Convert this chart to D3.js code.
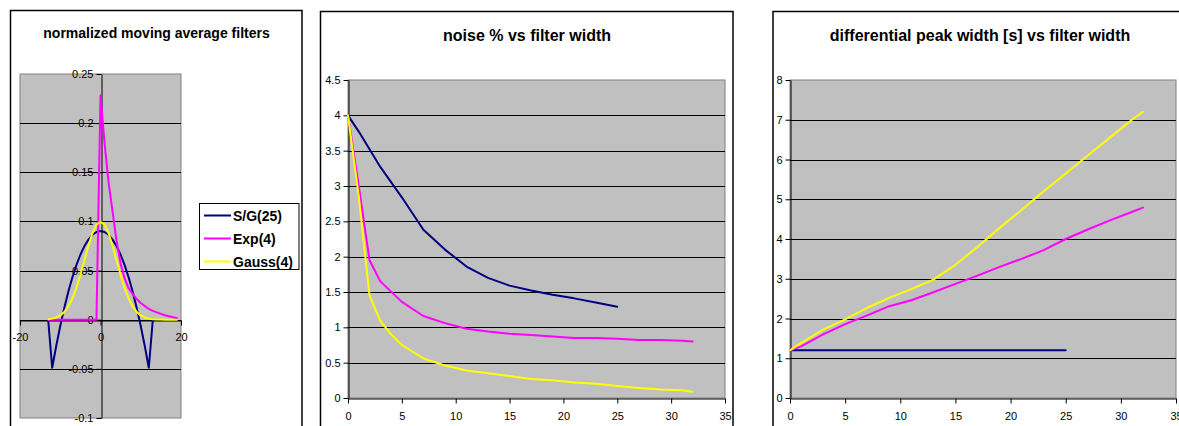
<!DOCTYPE html>
<html><head><meta charset="utf-8">
<script src="https://cdn.jsdelivr.net/npm/d3@7"></script>
<style>
html,body{margin:0;padding:0;background:#fff;}
svg{display:block;font-family:"Liberation Sans",Arial,sans-serif;}
</style></head>
<body><svg id="c" width="1179" height="426"></svg>
<script>
// ---------- DATA ----------
const seriesNames = ["S/G(25)", "Exp(4)", "Gauss(4)"];
const seriesColors = ["#000080", "#ff00ff", "#ffff00"];

// Panel 1: normalized moving average filters
const filterX = [-13,-12,-11,-10,-9,-8,-7,-6,-5,-4,-3,-2,-1,0,1,2,3,4,5,6,7,8,9,10,11,12,13,14,15,16,17,18,19];
const filterSG = [0,-0.0489,-0.0267,-0.0064,0.0120,0.0284,0.0429,0.0555,0.0661,0.0748,0.0815,0.0864,0.0893,0.0902,0.0893,0.0864,0.0815,0.0748,0.0661,0.0555,0.0429,0.0284,0.0120,-0.0064,-0.0267,-0.0489,0];
const filterExp = [0,0,0,0,0,0,0,0,0,0,0,0,0,0.228,0.18,0.14,0.11,0.08,0.057,0.042,0.032,0.026,0.021,0.017,0.014,0.011,0.009,0.0075,0.006,0.0045,0.0035,0.0025,0.0015];
const filterGauss = [0.0005,0.0011,0.0023,0.0044,0.0079,0.0135,0.0216,0.0324,0.0457,0.0605,0.0753,0.088,0.0967,0.0997,0.0967,0.088,0.0753,0.0605,0.0457,0.0324,0.0216,0.0135,0.0079,0.0044,0.0023,0.0011,0.0005,0.0002,0.0001,0,0,0,0];
const p1YTicks = [-0.1,-0.05,0,0.05,0.1,0.15,0.2,0.25];
const p1YLabels = ["-0.1","-0.05","0","0.05","0.1","0.15","0.2","0.25"];
const p1XTicks = [-20,0,20];
const p1XLabels = ["-20","0","20"];

// Panel 2: noise % vs filter width
const noiseSGX = [0,1,3,5,7,9,11,13,15,17,19,21,23,25];
const noiseSG  = [4.0,3.77,3.27,2.84,2.38,2.1,1.86,1.7,1.59,1.52,1.46,1.41,1.35,1.29];
const noiseExpX = [0,1,2,3,5,7,9,11,13,15,17,19,21,23,25,27,29,31,32];
const noiseExp  = [4.0,3.0,1.95,1.65,1.36,1.16,1.06,0.98,0.94,0.91,0.89,0.87,0.85,0.85,0.84,0.82,0.82,0.81,0.80];
const noiseGaussX = [0,1,2,3,4,5,7,9,11,13,15,17,19,21,23,25,27,29,31,32];
const noiseGauss  = [4.0,2.85,1.45,1.09,0.9,0.75,0.56,0.46,0.39,0.35,0.31,0.27,0.25,0.22,0.2,0.17,0.14,0.12,0.11,0.09];
const p2YTicks = [0,0.5,1,1.5,2,2.5,3,3.5,4,4.5];
const p2YLabels = ["0","0.5","1","1.5","2","2.5","3","3.5","4","4.5"];
const widthTicks = [0,5,10,15,20,25,30,35];
const widthLabels = ["0","5","10","15","20","25","30","35"];

// Panel 3: differential peak width [s] vs filter width
const peakSGX = [0,5,10,15,20,25];
const peakSG  = [1.2,1.2,1.2,1.2,1.2,1.2];
const peakExpX = [0,1,3,5,7,9,11,13,15,17,19,21,23,25,27,29,31,32];
const peakExp  = [1.2,1.3,1.6,1.86,2.08,2.31,2.46,2.66,2.87,3.08,3.3,3.5,3.72,4.0,4.24,4.47,4.68,4.79];
const peakGaussX = [0,1,3,5,7,9,11,13,15,17,19,21,23,25,27,29,31,32];
const peakGauss  = [1.2,1.38,1.72,1.98,2.27,2.52,2.74,2.98,3.35,3.8,4.28,4.73,5.2,5.65,6.1,6.55,7.0,7.2];
const p3YTicks = [0,1,2,3,4,5,6,7,8];
const p3YLabels = ["0","1","2","3","4","5","6","7","8"];

const titles = ["normalized moving average filters", "noise % vs filter width", "differential peak width [s] vs filter width"];

// ---------- DRAW ----------
const svg = d3.select("#c");
const line = d3.line().x(d => d[0]).y(d => d[1]);
const zip = (xs, ys) => xs.map((v, i) => [v, ys[i]]);

function frame(x0, y0, x1) {
  svg.append("rect").attr("x", x0).attr("y", y0).attr("width", x1 - x0).attr("height", 460)
    .attr("fill", "#fff").attr("stroke", "#000").attr("stroke-width", 1.5);
}

function plotBg(x, y) {
  const [l, r] = x.range(), [b, t] = y.range();
  svg.append("rect").attr("x", l).attr("y", t).attr("width", r - l).attr("height", b - t)
    .attr("fill", "#c0c0c0").attr("stroke", "#808080").attr("stroke-width", 1);
}

function grid(x, y, ticks, skip) {
  const [l, r] = x.range();
  svg.append("g").selectAll("line").data(ticks.filter(t => !skip.includes(t))).join("line")
    .attr("x1", l).attr("x2", r)
    .attr("y1", d => Math.round(y(d)) + 0.5).attr("y2", d => Math.round(y(d)) + 0.5)
    .attr("stroke", "#000").attr("stroke-width", 1);
}

function series(x, y, xs, ys, color) {
  svg.append("path").attr("d", line(zip(xs, ys).map(p => [x(p[0]), y(p[1])])))
    .attr("fill", "none").attr("stroke", color).attr("stroke-width", 2)
    .attr("stroke-linejoin", "round").attr("stroke-linecap", "round");
}

function yAxis(y, xPos, ticks, labels) {
  const ax = d3.axisLeft(y).tickValues(ticks).tickSize(5).tickSizeOuter(0).tickPadding(3)
    .tickFormat((d, i) => labels[i]);
  const g = svg.append("g").attr("transform", `translate(${Math.round(xPos) + 0.5},0)`).call(ax);
  g.selectAll("text").attr("font-size", 11).attr("fill", "#000")
    .attr("font-family", "'Liberation Sans', Arial, sans-serif");
  g.selectAll("line,path").attr("stroke", "#000");
  return g;
}

function xAxis(x, yPos, ticks, labels, pad) {
  const ax = d3.axisBottom(x).tickValues(ticks).tickSize(5).tickSizeOuter(0).tickPadding(pad)
    .tickFormat((d, i) => labels[i]);
  const g = svg.append("g").attr("transform", `translate(0,${Math.round(yPos) + 0.5})`).call(ax);
  g.selectAll("text").attr("font-size", 11).attr("fill", "#000")
    .attr("font-family", "'Liberation Sans', Arial, sans-serif");
  g.selectAll("line,path").attr("stroke", "#000");
  return g;
}

function title(txt, cx, by, size) {
  svg.append("text").attr("x", cx).attr("y", by).attr("text-anchor", "middle")
    .attr("font-weight", "bold").attr("font-size", size).attr("fill", "#000").text(txt);
}

// Panel 1
frame(10.5, 10.5, 302);
title(titles[0], 156.5, 38, 14);
const x1 = d3.scaleLinear().domain([-20, 20]).range([20, 181]);
const y1 = d3.scaleLinear().domain([-0.1, 0.25]).range([418, 74]);
plotBg(x1, y1);
grid(x1, y1, p1YTicks, [0.25, -0.1]);
yAxis(y1, x1(0), p1YTicks, p1YLabels);
xAxis(x1, y1(0), p1XTicks, p1XLabels, 8);
series(x1, y1, filterX.slice(0, filterSG.length), filterSG, seriesColors[0]);
series(x1, y1, filterX, filterExp, seriesColors[1]);
series(x1, y1, filterX, filterGauss, seriesColors[2]);

// legend
const lg = svg.append("g");
lg.append("rect").attr("x", 199.5).attr("y", 203.5).attr("width", 99.5).attr("height", 66)
  .attr("fill", "#fff").attr("stroke", "#000").attr("stroke-width", 1);
seriesNames.forEach((n, i) => {
  const yy = 215.5 + i * 23;
  lg.append("line").attr("x1", 204).attr("x2", 231).attr("y1", yy).attr("y2", yy)
    .attr("stroke", seriesColors[i]).attr("stroke-width", 2);
  lg.append("text").attr("x", 233).attr("y", yy).attr("dy", "0.36em")
    .attr("font-size", 14).attr("font-weight", "bold").attr("fill", "#000").text(n);
});

// Panel 2
frame(320.5, 11.5, 733);
title(titles[1], 527, 40.5, 16);
const x2 = d3.scaleLinear().domain([0, 35]).range([348, 725]);
const y2 = d3.scaleLinear().domain([0, 4.5]).range([398, 80]);
plotBg(x2, y2);
grid(x2, y2, p2YTicks, [0, 4.5]);
yAxis(y2, x2(0), p2YTicks, p2YLabels);
xAxis(x2, y2(0), widthTicks, widthLabels, 9);
series(x2, y2, noiseSGX, noiseSG, seriesColors[0]);
series(x2, y2, noiseExpX, noiseExp, seriesColors[1]);
series(x2, y2, noiseGaussX, noiseGauss, seriesColors[2]);

// Panel 3
frame(773, 11.5, 1200);
title(titles[2], 980, 40.5, 16);
const x3 = d3.scaleLinear().domain([0, 35]).range([790, 1176]);
const y3 = d3.scaleLinear().domain([0, 8]).range([398, 80]);
plotBg(x3, y3);
grid(x3, y3, p3YTicks, [0, 8]);
yAxis(y3, x3(0), p3YTicks, p3YLabels);
xAxis(x3, y3(0), widthTicks, widthLabels, 9);
series(x3, y3, peakSGX, peakSG, seriesColors[0]);
series(x3, y3, peakExpX, peakExp, seriesColors[1]);
series(x3, y3, peakGaussX, peakGauss, seriesColors[2]);
</script></body></html>
